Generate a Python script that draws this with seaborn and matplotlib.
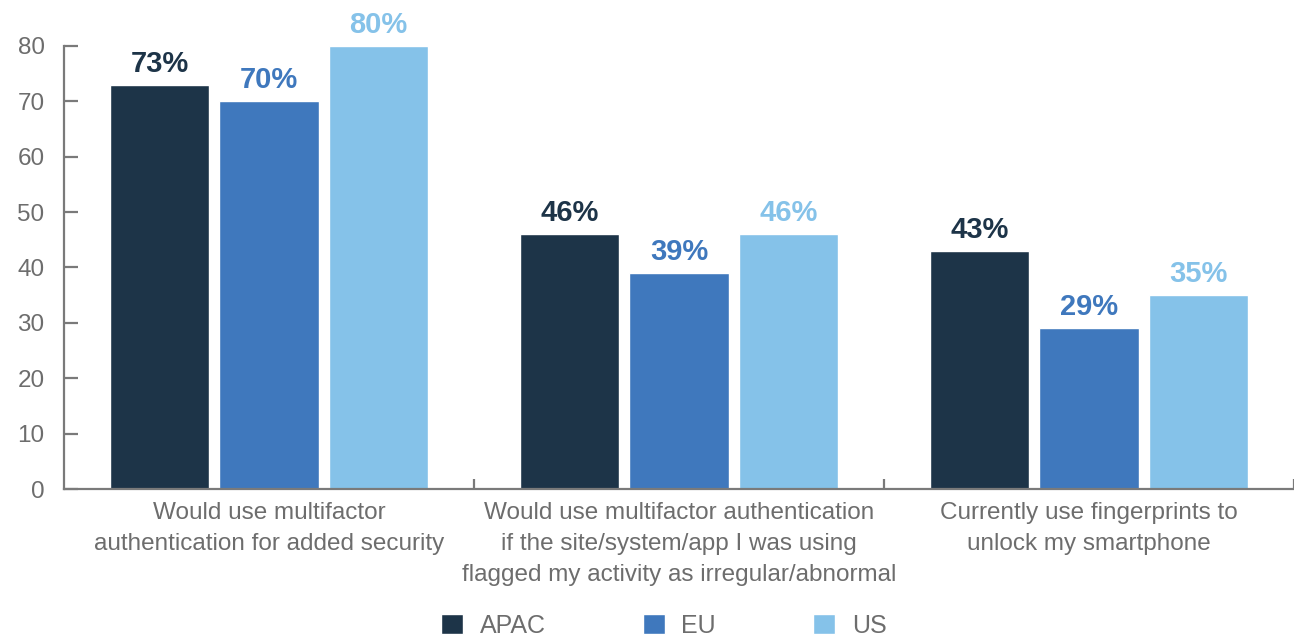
import pandas as pd
import matplotlib.pyplot as plt
import seaborn as sns
from matplotlib.ticker import FixedLocator

# Chart data
categories = [
    "Would use multifactor\nauthentication for added security",
    "Would use multifactor authentication\nif the site/system/app I was using\nflagged my activity as irregular/abnormal",
    "Currently use fingerprints to\nunlock my smartphone",
]
regions = ["APAC", "EU", "US"]
apac = [73, 46, 43]
eu = [70, 39, 29]
us = [80, 46, 35]
colors = ["#1d3448", "#3f78bd", "#85c2e9"]

rows = []
for region, vals in zip(regions, [apac, eu, us]):
    for cat, v in zip(categories, vals):
        rows.append({"category": cat, "region": region, "value": v})
df = pd.DataFrame(rows)

sns.set_style("white")
plt.rcParams["font.family"] = ["Liberation Sans", "DejaVu Sans"]

grey = "#6d6d6d"
spine_grey = "#7a7a7a"

fig = plt.figure(figsize=(12.94, 6.38), dpi=100)
ax = fig.add_axes([0.0495, 0.2335, 0.9505, 0.6945])

sns.barplot(data=df, x="category", y="value", hue="region", hue_order=regions,
            palette=colors, width=0.8, gap=0.09, saturation=1, ax=ax)

ax.set_ylim(0, 80)
ax.set_xlim(-0.5, 2.5)
ax.set_yticks(range(0, 81, 10))
ax.set_xticks([0, 1, 2], categories, linespacing=1.55)
ax.set_xlabel("")
ax.set_ylabel("")

for cont, col in zip(ax.containers, colors):
    ax.bar_label(cont, labels=[f"{v:.0f}%" for v in cont.datavalues],
                 padding=5, color=col, fontsize=21, fontweight="bold",
                 annotation_clip=False)

sns.despine(ax=ax, top=True, right=True)
for s in ["left", "bottom"]:
    ax.spines[s].set_color(spine_grey)
    ax.spines[s].set_linewidth(1.6)

ax.tick_params(axis="y", direction="in", length=10, width=1.6, color=spine_grey,
               labelsize=17.5, labelcolor=grey, pad=14, left=True)
ax.tick_params(axis="x", which="major", length=0, labelsize=17.5,
               labelcolor=grey, pad=9)
ax.xaxis.set_minor_locator(FixedLocator([0.5, 1.5, 2.5]))
ax.tick_params(axis="x", which="minor", direction="in", length=7, width=1.6,
               color=spine_grey, bottom=True)

handles, labels = ax.get_legend_handles_labels()
ax.get_legend().remove()
leg = fig.legend(handles, labels, loc="center", bbox_to_anchor=(0.513, 0.019),
                 ncol=3, frameon=False, fontsize=18, handlelength=0.88,
                 handleheight=0.88, handletextpad=0.65, columnspacing=3.9)
for t in leg.get_texts():
    t.set_color(grey)

fig.savefig("out.png", dpi=100)
